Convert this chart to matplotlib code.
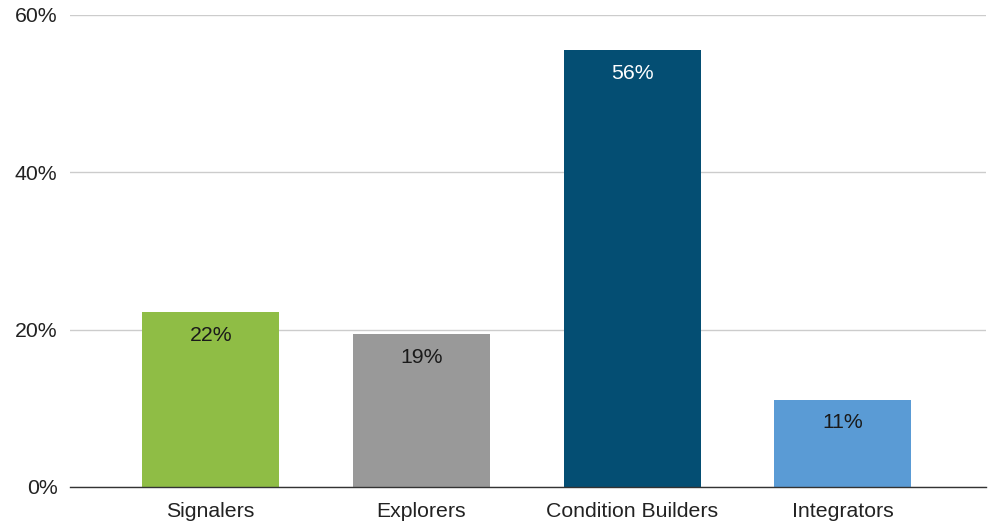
import matplotlib
matplotlib.use("Agg")
import matplotlib.pyplot as plt
from matplotlib.ticker import FuncFormatter

categories = ["Signalers", "Explorers", "Condition Builders", "Integrators"]
values = [22.2, 19.4, 55.5, 11.1]
colors = ["#8fbd45", "#999999", "#044e73", "#5a9bd5"]
label_colors = ["#1a1a1a", "#1a1a1a", "#ffffff", "#1a1a1a"]
yticks = [0, 20, 40, 60]

plt.rcParams['font.family'] = ['Liberation Sans', 'DejaVu Sans']

fig = plt.figure(figsize=(9.88, 5.21), dpi=100)
ax = fig.add_axes([70/988, 34/521, (986-70)/988, (506.3-34)/521])

x = list(range(len(categories)))
bars = ax.bar(x, values, width=0.65, color=colors, zorder=3)

for xi, v, lc in zip(x, values, label_colors):
    ax.annotate(f"{v:.0f}%", xy=(xi, v), xytext=(0, -16.5), textcoords="offset points",
                ha="center", va="center", fontsize=15.3, color=lc, zorder=4)

ax.set_ylim(0, 60)
ax.set_xlim(-0.668, 3.68)
ax.set_yticks(yticks)
ax.yaxis.set_major_formatter(FuncFormatter(lambda v, p: f"{v:.0f}%"))
ax.set_xticks(x)
ax.set_xticklabels(categories)
ax.tick_params(axis="both", length=0, labelsize=15.3, colors="#222222")
ax.tick_params(axis="y", pad=9)
ax.tick_params(axis="x", pad=10.5)
ax.grid(axis="y", color="#cccccc", linewidth=1, zorder=0)
for s in ["top", "right", "left"]:
    ax.spines[s].set_visible(False)
ax.spines["bottom"].set_color("#333333")
ax.spines["bottom"].set_linewidth(1)
ax.spines["bottom"].set_zorder(5)

fig.savefig("out.png", dpi=100)
